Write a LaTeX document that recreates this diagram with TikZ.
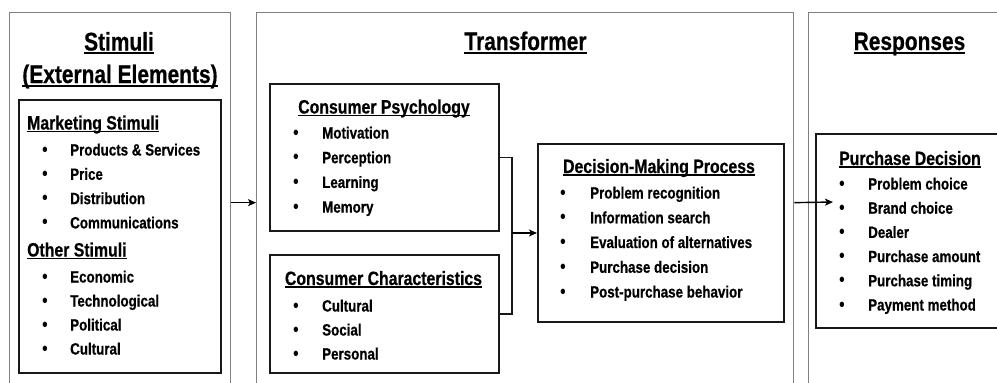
\documentclass[tikz,border=0pt]{standalone}
\usepackage{fontspec}
\newfontfamily\narrowsf[FakeStretch=0.82,BoldFeatures={FakeBold=0.6}]{Liberation Sans}
\usetikzlibrary{calc,positioning,arrows.meta}
% underline that ignores descenders
\newcommand{\ulin}[1]{\setbox0=\hbox{#1}\leavevmode\rlap{\rule[-.15em]{\wd0}{.08em}}\box0}

\begin{document}
\begin{tikzpicture}[x=1pt,y=-1pt,
    frame/.style={draw=black!50,line width=1.3pt,anchor=north west,inner sep=0pt},
    inbox/.style={draw=black!90,line width=2pt,anchor=north west,inner sep=0pt},
    ttl/.style={font=\narrowsf\bfseries\fontsize{25.5}{30}\selectfont,text=black,inner sep=0pt,anchor=base},
    hd/.style={font=\narrowsf\bfseries\fontsize{19.3}{23}\selectfont,text=black,inner sep=0pt,anchor=base},
    itm/.style={font=\narrowsf\bfseries\fontsize{16.3}{20}\selectfont,text=black,inner sep=0pt,anchor=base west},
    blt/.style={font=\narrowsf\fontsize{20}{20}\selectfont,text=black,inner sep=0pt,anchor=base},
    arr/.style={-{Stealth[length=8pt,width=7pt,inset=2pt]},line width=1.4pt,black},
    link/.style={line width=1.8pt,black!90}]
    \useasboundingbox (0,0) rectangle (997,383);
    \clip (0,0) rectangle (997,383);

    % outer frames (cut off at the bottom)
    \node[frame,minimum width=221pt,minimum height=380pt] (stim) at (9,12) {};
    \node[frame,minimum width=537pt,minimum height=380pt] (trans) at (256,12) {};
    \node[frame,minimum width=250pt,minimum height=380pt] (resp) at (808,12) {};

    \node[ttl] (stimt) at (119,50.5) {\ulin{Stimuli}};
    \node[ttl] (extt) at (120,83) {\ulin{(External Elements)}};
    \node[ttl] (transt) at (525.5,50) {\ulin{Transformer}};
    \node[ttl] (respt) at (909.5,50) {\ulin{Responses}};

    % inner boxes
    \node[inbox,minimum width=202pt,minimum height=273pt] (mkt) at (18,99) {};
    \node[inbox,minimum width=229pt,minimum height=147pt] (psy) at (269,83) {};
    \node[inbox,minimum width=229pt,minimum height=118pt] (chr) at (269,254) {};
    \node[inbox,minimum width=246pt,minimum height=178pt] (dmp) at (537,143) {};
    \node[inbox,minimum width=235pt,minimum height=194pt] (pur) at (815,133) {};

    % stimuli
    \node[hd,anchor=base west] (mkth) at (27,129.5) {\ulin{Marketing Stimuli}};
    \foreach \t [count=\i from 0] in {Products \& Services,Price,Distribution,Communications}{
      \node[blt] (mkb\i) at (45,{156+24.3*\i}) {\textbullet};
      \node[itm] (mki\i) at (70,{155.5+24.3*\i}) {\t};}
    \node[hd,anchor=base west] (othh) at (27,256.5) {\ulin{Other Stimuli}};
    \foreach \t [count=\i from 0] in {Economic,Technological,Political,Cultural}{
      \node[blt] (otb\i) at (45,{283+24*\i}) {\textbullet};
      \node[itm] (oti\i) at (70,{282.5+24*\i}) {\t};}

    % transformer
    \node[hd] (psyh) at (384,113.5) {\ulin{Consumer Psychology}};
    \foreach \t [count=\i from 0] in {Motivation,Perception,Learning,Memory}{
      \node[blt] (psb\i) at (296,{139+24.7*\i}) {\textbullet};
      \node[itm] (psi\i) at (322,{138.5+24.7*\i}) {\t};}
    \node[hd] (chrh) at (383.5,285) {\ulin{Consumer Characteristics}};
    \foreach \t [count=\i from 0] in {Cultural,Social,Personal}{
      \node[blt] (chb\i) at (296,{312+24*\i}) {\textbullet};
      \node[itm] (chi\i) at (322,{311.5+24*\i}) {\t};}
    \node[hd] (dmph) at (659,173) {\ulin{Decision-Making Process}};
    \foreach \t [count=\i from 0] in {Problem recognition,Information search,Evaluation of alternatives,Purchase decision,Post-purchase behavior}{
      \node[blt] (dmb\i) at (563,{199+24.75*\i}) {\textbullet};
      \node[itm] (dmi\i) at (590,{198.5+24.75*\i}) {\t};}

    % responses
    \node[hd,anchor=base west] (purh) at (839,165) {\ulin{Purchase Decision}};
    \foreach \t [count=\i from 0] in {Problem choice,Brand choice,Dealer,Purchase amount,Purchase timing,Payment method}{
      \node[blt] (pub\i) at (842,{190+24.2*\i}) {\textbullet};
      \node[itm] (pui\i) at (868,{189.5+24.2*\i}) {\t};}

    % connectors
    \draw[arr] (stim.east) -- (trans.west);
    \draw[link] (psy.east) -- ++(12,0) coordinate (brk) |- (chr.east);
    \draw[arr] (brk |- dmp.west) -- (dmp.west);
    \coordinate (hit) at (833,202);
    \draw[arr] (trans.east) -- (hit);
\end{tikzpicture}
\end{document}
